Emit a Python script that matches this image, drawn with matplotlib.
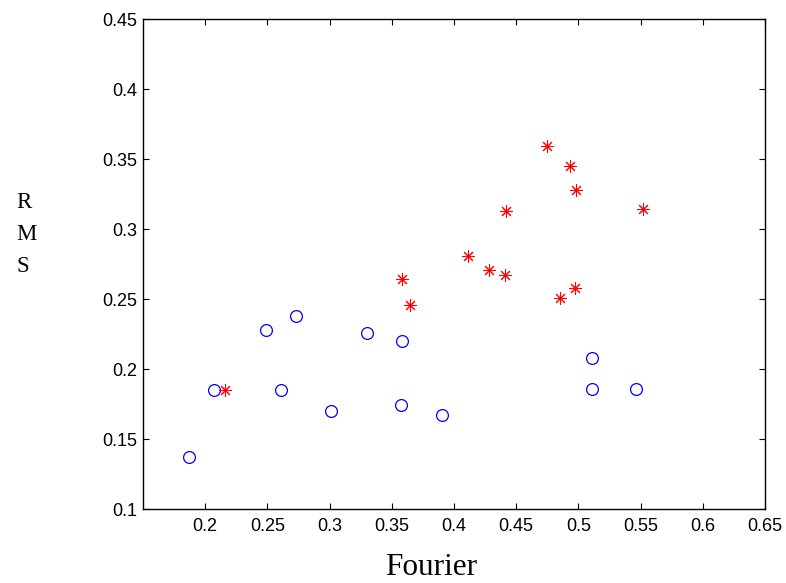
import matplotlib
matplotlib.use("Agg")
import matplotlib.pyplot as plt

# Blue circles series
circle_x = [0.187, 0.207, 0.249, 0.273, 0.261, 0.301, 0.330, 0.358, 0.357, 0.390, 0.511, 0.511, 0.546]
circle_y = [0.137, 0.185, 0.228, 0.238, 0.185, 0.170, 0.226, 0.220, 0.174, 0.167, 0.208, 0.186, 0.186]

# Red star series
star_x = [0.475, 0.493, 0.498, 0.442, 0.552, 0.411, 0.428, 0.441, 0.358, 0.365, 0.497, 0.485, 0.216]
star_y = [0.359, 0.345, 0.328, 0.313, 0.314, 0.281, 0.271, 0.267, 0.264, 0.246, 0.258, 0.251, 0.185]

xticks = [0.2, 0.25, 0.3, 0.35, 0.4, 0.45, 0.5, 0.55, 0.6, 0.65]
xtick_labels = ["0.2", "0.25", "0.3", "0.35", "0.4", "0.45", "0.5", "0.55", "0.6", "0.65"]
yticks = [0.1, 0.15, 0.2, 0.25, 0.3, 0.35, 0.4, 0.45]
ytick_labels = ["0.1", "0.15", "0.2", "0.25", "0.3", "0.35", "0.4", "0.45"]

W, H = 786, 583
fig = plt.figure(figsize=(W / 100, H / 100), dpi=100)
ax = fig.add_axes([143 / W, (H - 509) / H, (765 - 143) / W, (509 - 19) / H])

ax.plot(circle_x, circle_y, linestyle="none", marker="o", markersize=8.5,
        markerfacecolor="none", markeredgecolor=(0, 0, 1), markeredgewidth=0.9)
ax.plot(star_x, star_y, linestyle="none", marker=(8, 2, 0), markersize=9,
        color=(1, 0, 0), markeredgewidth=0.75)

ax.set_xlim(0.15, 0.65)
ax.set_ylim(0.1, 0.45)
ax.set_xticks(xticks)
ax.set_xticklabels(xtick_labels)
ax.set_yticks(yticks)
ax.set_yticklabels(ytick_labels)

for s in ax.spines.values():
    s.set_linewidth(1.0)
    s.set_color("black")

ax.tick_params(axis="both", direction="in", length=4.3, width=0.8,
               top=True, right=True, labelsize=13, colors="black")
ax.tick_params(axis="x", pad=6.3)
ax.tick_params(axis="y", pad=4.3)
for lab in ax.get_xticklabels() + ax.get_yticklabels():
    lab.set_fontfamily(["Liberation Sans", "DejaVu Sans"])

# x label
fig.text(431 / W, 1 - 575 / H, "Fourier", ha="center", va="baseline",
         fontsize=22.5, family=["Liberation Serif", "DejaVu Serif"])

# y label as stacked letters
for letter, base in zip(["R", "M", "S"], [208, 240, 272]):
    fig.text(16 / W, 1 - base / H, letter, ha="left", va="baseline",
             fontsize=16.5, family=["Liberation Serif", "DejaVu Serif"])

fig.savefig("out.png", dpi=100)
